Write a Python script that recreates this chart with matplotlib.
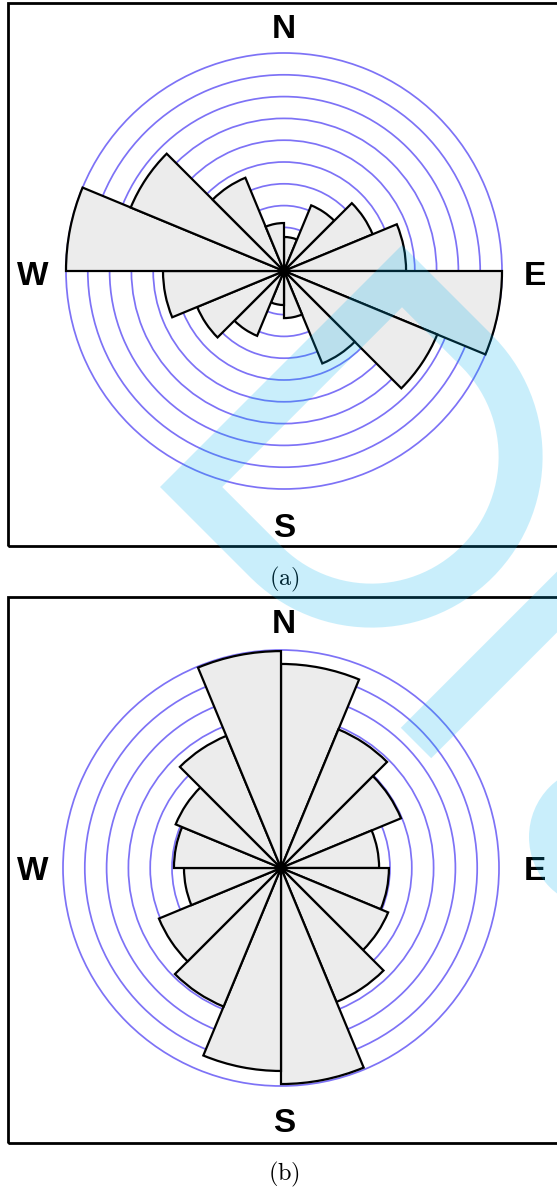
import numpy as np
import matplotlib.pyplot as plt
from matplotlib.path import Path
from matplotlib.patches import PathPatch, Circle, Rectangle

# figure size in pixels
W_PX, H_PX = 557, 1189
DPI = 100

# rose bins: start angle (deg, clockwise from north), 22.5 deg wide
bin_start = np.arange(0.0, 360.0, 22.5)
bin_width = 22.5

# bar lengths, in units of the ring spacing
rose_a = [1.56, 3.26, 4.40, 5.60, 10.0, 7.61, 4.59, 2.16,
          1.56, 3.22, 4.31, 5.55, 10.0, 7.61, 4.63, 2.20]
rose_b = [9.36, 6.88, 5.96, 4.50, 4.95, 5.32, 6.65, 9.91,
          9.31, 6.88, 6.06, 4.45, 4.91, 5.23, 6.56, 9.95]

rings = np.arange(1, 11)
compass = ['N', 'E', 'S', 'W']
captions = ['(a)', '(b)']

# colours
ring_color = '#7d72f6'
bar_face = '#ececec'

# pixel -> figure fraction
def fx(px):
    return px / W_PX

def fy(py):
    return 1.0 - py / H_PX

ring_px = 21.8
rmax = 10.5
R_px = ring_px * rmax

# layout of the two panels (pixels)
panels = [
    dict(data=rose_a, cx=284, cy=271, top=2.8, bottom=546.3, cap_y=585,
         lab={'N': (284, 37.5), 'S': (284, 537), 'W': (32.5, 285), 'E': (535, 285)}),
    dict(data=rose_b, cx=281, cy=868, top=597.5, bottom=1142.5, cap_y=1180,
         lab={'N': (284, 633), 'S': (284, 1132), 'W': (32.5, 880), 'E': (535, 880)}),
]

fig = plt.figure(figsize=(W_PX / DPI, H_PX / DPI), dpi=DPI)
fig.patch.set_facecolor('white')

for p, cap in zip(panels, captions):
    # frame round the diagram (right side runs off the page)
    fig.add_artist(Rectangle((fx(7.8), fy(p['bottom'])),
                             fx(575) - fx(7.8), fy(p['top']) - fy(p['bottom']),
                             fill=False, lw=2.0, ec='black',
                             transform=fig.transFigure))

    ax = fig.add_axes([fx(p['cx'] - R_px), fy(p['cy'] + R_px),
                       2 * R_px / W_PX, 2 * R_px / H_PX], projection='polar')
    ax.set_theta_zero_location('N')
    ax.set_theta_direction(-1)
    ax.bar(np.deg2rad(bin_start), p['data'], width=np.deg2rad(bin_width),
           align='edge', color=bar_face, edgecolor='black', lw=1.6, zorder=3)
    ax.set_ylim(0, rmax)
    ax.set_rgrids(rings, labels=[''] * len(rings))
    ax.set_thetagrids([])
    ax.tick_params(axis='both', length=0, width=0)
    ax.xaxis.grid(False)
    ax.yaxis.grid(True, color=ring_color, lw=1.25, solid_capstyle='butt')
    ax.set_axisbelow(True)
    ax.spines['polar'].set_visible(False)
    ax.set_facecolor('none')

    for c in compass:
        x, y = p['lab'][c]
        fig.text(fx(x), fy(y), c, ha='center', va='baseline', fontsize=24,
                 fontweight='bold', family='Liberation Sans')

    fig.text(fx(284), fy(p['cap_y']), r'$\mathrm{' + cap + '}$', fontsize=17.5,
             ha='center', va='baseline', math_fontfamily='cm')

# semi-transparent watermark on top of the page
axw = fig.add_axes([0, 0, 1, 1], zorder=10)
axw.set_xlim(0, W_PX)
axw.set_ylim(H_PX, 0)
axw.axis('off')
axw.set_facecolor('none')

wm_color = (0.0, 0.70, 0.94)
wm_alpha = 0.21

P1 = np.array([160.0, 487.0])
P2 = np.array([402.0, 245.0])
mid = 0.5 * (P1 + P2)
s = (P2 - P1) / np.linalg.norm(P2 - P1)
n = np.array([-s[1], s[0]])
if n[1] < 0:
    n = -n
Rd = 0.5 * np.linalg.norm(P2 - P1)
arm = 128.0
w = 44.0

def local(u, v):
    return mid + u * n + v * s

phi_o = np.linspace(np.pi / 2, -np.pi / 2, 60)
outer = [local(0, -Rd), local(0, Rd), local(arm, Rd)]
outer += [local(arm + Rd * np.cos(t), Rd * np.sin(t)) for t in phi_o]
outer += [local(arm, -Rd)]
ri = Rd - w
phi_i = np.linspace(-np.pi / 2, np.pi / 2, 60)
inner = [local(w, -ri), local(arm, -ri)]
inner += [local(arm + ri * np.cos(t), ri * np.sin(t)) for t in phi_i]
inner += [local(arm, ri), local(w, ri)]

verts = outer + [outer[0]] + inner + [inner[0]]
codes = ([Path.MOVETO] + [Path.LINETO] * (len(outer) - 1) + [Path.CLOSEPOLY] +
         [Path.MOVETO] + [Path.LINETO] * (len(inner) - 1) + [Path.CLOSEPOLY])
axw.add_patch(PathPatch(Path(np.array(verts), codes), fc=wm_color,
                        ec='none', alpha=wm_alpha))

# second band and round blob at the right edge
b0 = np.array([416.0, 743.0])
d = np.array([1.0, -1.0]) / np.sqrt(2)
nb = np.array([1.0, 1.0]) / np.sqrt(2)
L = 320.0
hw = 21.5
band = [b0 - hw * nb, b0 - hw * nb + L * d, b0 + hw * nb + L * d, b0 + hw * nb]
axw.add_patch(plt.Polygon(band, closed=True, fc=wm_color, ec='none',
                          alpha=wm_alpha))
axw.add_patch(Circle((600, 837), 71, fc=wm_color, ec='none', alpha=wm_alpha))

fig.savefig('out.png', dpi=DPI)
